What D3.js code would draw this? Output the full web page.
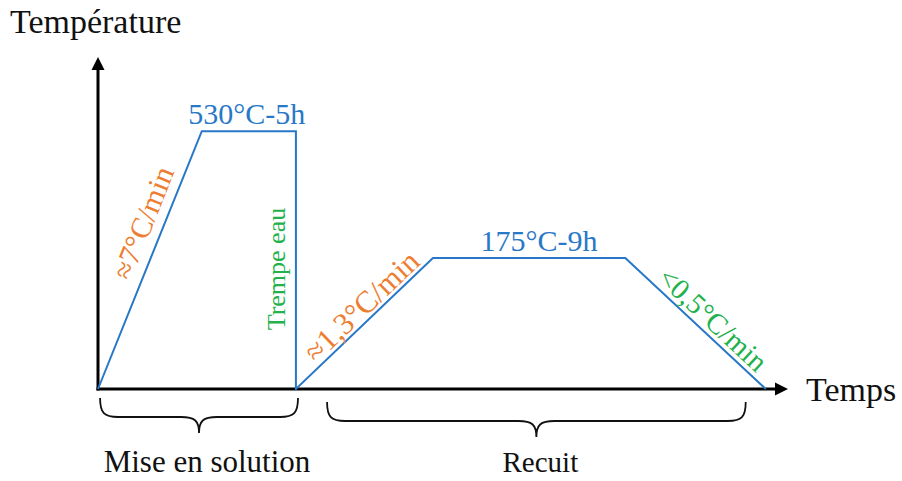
<!DOCTYPE html>
<html>
<head>
<meta charset="utf-8">
<script src="https://cdn.jsdelivr.net/npm/d3@7"></script>
<style>
    body { margin: 0; background: #fff; }
    svg { display: block; }
    text { font-family: "Liberation Serif", "DejaVu Serif", serif; }
</style>
</head>
<body>
<svg id="chart" width="902" height="481"></svg>
<script>
// schematic heat treatment profile (arbitrary units)
const profileTime = [0, 15, 28.6, 28.6, 48.4, 76.2, 96.5];
const profileTemp = [0, 77.2, 77.2, 0, 39.2, 39.2, 0];

// plateau labels: segment index -> text
const plateauSegments = [1, 4];
const plateauLabels = ["530°C-5h", "175°C-9h"];

// ramp labels
const rampSegments = [0, 2, 3, 5];
const rampLabels = ["≈7°C/min", "Trempe eau", "≈1,3°C/min", "<0,5°C/min"];
const rampKinds = ["heat", "quench", "heat", "cool"];

// phases shown with braces under the time axis
const phaseNames = ["Mise en solution", "Recuit"];
const phaseStart = [0.3, 33.1];
const phaseEnd = [28.9, 93.6];

const axisLabels = { y: "Température", x: "Temps" };

const colors = {
    line: "#2878C8",
    heat: "#ED7D31",
    quench: "#22B14C",
    cool: "#22B14C",
    axis: "#000"
};

const svg = d3.select("#chart");

const x = d3.scaleLinear().domain([0, 100]).range([98, 790]);
const y = d3.scaleLinear().domain([0, 100]).range([389, 55]);

// axes with arrow heads
const axes = svg.append("g");

axes.append("line")
    .attr("x1", x(0)).attr("y1", y(0) + 1.5)
    .attr("x2", x(0)).attr("y2", y(100) + 10)
    .style("stroke", colors.axis)
    .style("stroke-width", 3);

axes.append("line")
    .attr("x1", x(0) - 1.5).attr("y1", y(0))
    .attr("x2", x(100) - 10).attr("y2", y(0))
    .style("stroke", colors.axis)
    .style("stroke-width", 3);

axes.append("path")
    .attr("d", d3.line()([[x(0), y(100) + 2], [x(0) - 6.5, y(100) + 15], [x(0) + 6.5, y(100) + 15]]) + "Z")
    .style("fill", colors.axis);

axes.append("path")
    .attr("d", d3.line()([[x(100) - 2, y(0)], [x(100) - 15, y(0) - 6.5], [x(100) - 15, y(0) + 6.5]]) + "Z")
    .style("fill", colors.axis);

axes.append("text")
    .attr("x", 10).attr("y", 33)
    .style("font-size", "34px")
    .style("fill", "#111")
    .text(axisLabels.y);

axes.append("text")
    .attr("x", 806).attr("y", 401)
    .style("font-size", "34px")
    .style("fill", "#111")
    .text(axisLabels.x);

// profile line
const points = profileTime.map((t, i) => [x(t), y(profileTemp[i])]);

svg.append("path")
    .attr("d", d3.line()(points))
    .style("fill", "none")
    .style("stroke", colors.line)
    .style("stroke-width", 2)
    .style("stroke-linejoin", "miter");

// plateau labels
const plateauDx = [-2, 10];
plateauSegments.forEach((s, i) => {
    const a = points[s], b = points[s + 1];
    svg.append("text")
        .attr("x", (a[0] + b[0]) / 2 + plateauDx[i])
        .attr("y", a[1] - 7)
        .attr("text-anchor", "middle")
        .style("font-size", "30px")
        .style("fill", colors.line)
        .text(plateauLabels[i]);
});

// ramp labels, written along their segment
const rampAlong = [32, -9, 10, 10];
const rampUp = [10, 11, 4, 5];
const rampSize = [30, 26, 31, 29];

rampSegments.forEach((s, i) => {
    const a = points[s], b = points[s + 1];
    let dx = b[0] - a[0], dy = b[1] - a[1];
    // the quench reads upward
    if (rampKinds[i] === "quench") { dx = -dx; dy = -dy; }
    const len = Math.hypot(dx, dy);
    const ux = dx / len, uy = dy / len;
    const angle = Math.atan2(dy, dx);
    const upx = Math.sin(angle), upy = -Math.cos(angle);
    const cx = (a[0] + b[0]) / 2 + ux * rampAlong[i] + upx * rampUp[i];
    const cy = (a[1] + b[1]) / 2 + uy * rampAlong[i] + upy * rampUp[i];

    svg.append("text")
        .attr("transform", `translate(${cx},${cy}) rotate(${angle * 180 / Math.PI})`)
        .attr("text-anchor", "middle")
        .style("font-size", rampSize[i] + "px")
        .style("fill", colors[rampKinds[i]])
        .text(rampLabels[i]);
});

// braces under the time axis
const braceTop = [9, 13];
const braceDepth = 19;
const braceTip = 16;

function bracePath(x0, x1, yT) {
    const yM = yT + braceDepth, yP = yM + braceTip;
    const xc = (x0 + x1) / 2;
    const r = 18, r2 = 18;
    const p = d3.path();
    p.moveTo(x0, yT);
    p.bezierCurveTo(x0, yM - 4, x0 + 4, yM, x0 + r, yM);
    p.lineTo(xc - r2, yM);
    p.bezierCurveTo(xc - 4, yM, xc, yM + 4, xc, yP);
    p.bezierCurveTo(xc, yM + 4, xc + 4, yM, xc + r2, yM);
    p.lineTo(x1 - r, yM);
    p.bezierCurveTo(x1 - 4, yM, x1, yM - 4, x1, yT);
    return p.toString();
}

phaseNames.forEach((name, i) => {
    const x0 = x(phaseStart[i]), x1 = x(phaseEnd[i]);
    const yT = y(0) + braceTop[i];

    svg.append("path")
        .attr("d", bracePath(x0, x1, yT))
        .style("fill", "none")
        .style("stroke", "#111")
        .style("stroke-width", 1.8);

    svg.append("text")
        .attr("x", (x0 + x1) / 2 + (i === 0 ? 8 : 4))
        .attr("y", 472)
        .attr("text-anchor", "middle")
        .style("font-size", i === 0 ? "31px" : "29px")
        .style("fill", "#111")
        .text(name);
});
</script>
</body>
</html>
